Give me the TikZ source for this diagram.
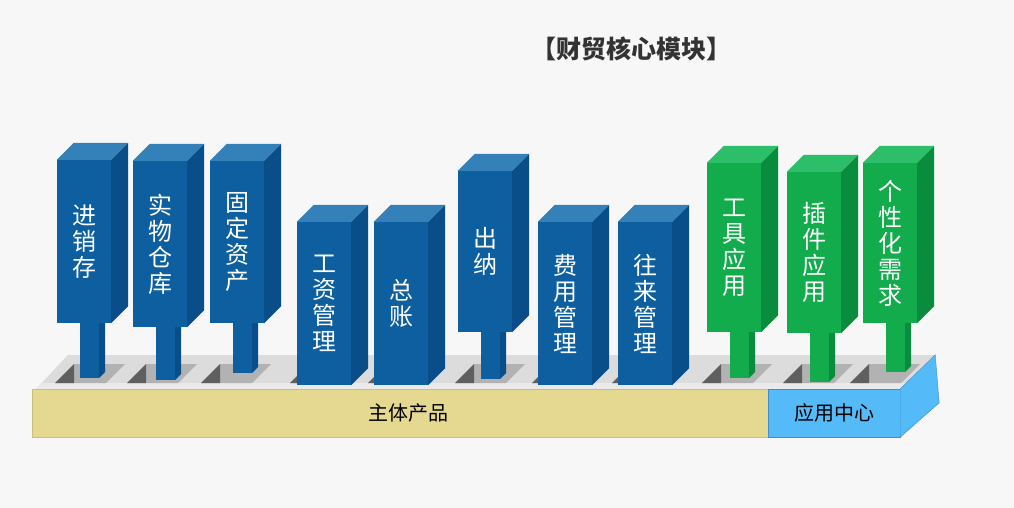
\documentclass[tikz,border=0pt]{standalone}
\usepackage{fontspec}
\newfontfamily\cjk{Noto Sans CJK SC}

\definecolor{bgcol}{HTML}{F7F7F7}
\definecolor{bluefront}{HTML}{0D5F9F}
\definecolor{bluetop}{HTML}{3480B8}
\definecolor{blueside}{HTML}{094E88}
\definecolor{greenfront}{HTML}{12AC4C}
\definecolor{greentop}{HTML}{2CBE69}
\definecolor{greenside}{HTML}{0A8C3E}
\definecolor{baseyellow}{HTML}{E5D992}
\definecolor{baseyline}{HTML}{CDBF78}
\definecolor{appblue}{HTML}{54BBF8}
\definecolor{appline}{HTML}{3E8FCC}
\definecolor{slabtop}{HTML}{DCDCDC}
\definecolor{slabfront}{HTML}{EAEAEA}
\definecolor{holegray}{HTML}{B2B2B2}
\definecolor{holedark}{HTML}{5F5F5F}
\definecolor{titlegray}{HTML}{333333}

\begin{document}
\begin{tikzpicture}[x=1pt, y=-1pt]
    \tikzstyle{pillar} = [rectangle, fill=bluefront, text=white, minimum width=54pt, inner sep=0pt, align=center, font=\cjk\fontsize{24}{26}\selectfont]
    \tikzstyle{green pillar} = [pillar, fill=greenfront]
    \tikzstyle{base} = [rectangle, minimum height=48pt, inner sep=0pt, font=\cjk\fontsize{20}{22}\selectfont]

    \fill [bgcol] (0,0) rectangle (1014,508);
    \useasboundingbox (0,0) rectangle (1014,508);

    \node [font=\cjk\bfseries\fontsize{25}{28}\selectfont, text=titlegray] (title) at (631,49) {【财贸核心模块】};

    % slab with the holes
    \fill [slabtop] (36,389) -- (68,355) -- (935,355) -- (900,389) -- cycle;
    \fill [slabfront] (36,389) -- (42,383) -- (906,383) -- (900,389) -- cycle;
    \foreach \x in {55,127,201,290,368,455,532,612,702,783,850} {
        \fill [holegray] (\x,383) -- (\x+19,364) -- (\x+70,364) -- (\x+51,383) -- cycle;
        \fill [holedark] (\x,383) -- (\x+19,364) -- (\x+19,383) -- cycle;
    }

    \node [base, fill=baseyellow, draw=baseyline, minimum width=736pt] (ztcp) at (400,413) {\hspace*{16pt}主体产品};
    \node [base, fill=appblue, draw=appline, minimum width=132pt] (yyzx) at (834,413) {应用中心};
    \filldraw [fill=appblue, draw=appline] (yyzx.north east) -- ++(35,-34) -- ++(4,48) -- (yyzx.south east) -- cycle;

    \node [pillar, minimum height=163pt] (jxc) at (84,241.5) {进\\销\\存};
    \node [pillar, minimum height=166pt] (swck) at (160,244) {实\\物\\仓\\库};
    \node [pillar, minimum height=162pt] (gdzc) at (237,242) {固\\定\\资\\产};
    \node [pillar, minimum height=163pt] (gzgl) at (324,303.5) {工\\资\\管\\理};
    \node [pillar, minimum height=163pt] (zz) at (401,303.5) {总\\账};
    \node [pillar, minimum height=161pt] (cn) at (485,251.5) {出\\纳};
    \node [pillar, minimum height=163pt] (fygl) at (565,303.5) {费\\用\\管\\理};
    \node [pillar, minimum height=163pt] (wlgl) at (645,303.5) {往\\来\\管\\理};
    \node [green pillar, minimum height=169pt] (gjyy) at (734,247.5) {工\\具\\应\\用};
    \node [green pillar, minimum height=161pt] (cjyy) at (814,252.5) {插\\件\\应\\用};
    \node [green pillar, minimum height=160pt] (gxh) at (890,243) {个\\性\\化\\需\\求};

    % stems under the tall pillars
    \foreach \n/\c/\l in {jxc/blue/55, swck/blue/53, gdzc/blue/50, cn/blue/47, gjyy/green/46, cjyy/green/49, gxh/green/49} {
        \fill [fill=\c front] ([xshift=-4pt]\n.south) rectangle ++(19,\l);
        \fill [fill=\c side] ([xshift=15pt]\n.south) -- ++(6,0) -- ++(0,\l-6) -- ++(-6,6) -- cycle;
    }

    % top and side faces
    \foreach \n/\c in {jxc/blue, swck/blue, gdzc/blue, gzgl/blue, zz/blue, cn/blue, fygl/blue, wlgl/blue, gjyy/green, cjyy/green, gxh/green} {
        \fill [fill=\c top] (\n.north west) -- ++(17,-17) -- ([shift={(17,-17)}]\n.north east) -- (\n.north east) -- cycle;
        \fill [fill=\c side] (\n.north east) -- ++(17,-17) -- ([shift={(17,-17)}]\n.south east) -- (\n.south east) -- cycle;
    }
\end{tikzpicture}
\end{document}
